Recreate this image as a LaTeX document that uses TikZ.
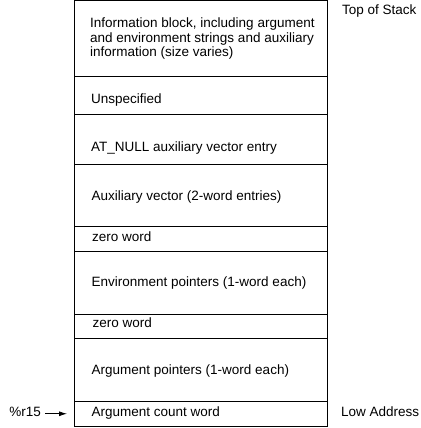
\documentclass[tikz,border=0pt]{standalone}
\usepackage{fontspec}
\setmainfont{Liberation Sans}
\usetikzlibrary{positioning,arrows.meta}

\newcommand{\cellfont}{\fontsize{13.5pt}{14.7pt}\selectfont}

\tikzset{
  cell/.style={draw, line width=1pt, minimum width=253pt, inner sep=0pt, outer sep=0pt, anchor=north west},
  txt/.style={inner sep=0pt, align=left, font=\cellfont, anchor=base west},
}

\begin{document}
\begin{tikzpicture}[x=1pt, y=-1pt]
\useasboundingbox (0,0) rectangle (420,428);

% stack cells, top to bottom
\node [cell, minimum height=75pt] (info) at (74,1) {};
\node [cell, minimum height=38pt] (unspec) at (74,76) {};
\node [cell, minimum height=50pt] (atnull) at (74,114) {};
\node [cell, minimum height=62pt] (auxv) at (74,164) {};
\node [cell, minimum height=25pt] (zeroa) at (74,226) {};
\node [cell, minimum height=63pt] (envp) at (74,251) {};
\node [cell, minimum height=24pt] (zerob) at (74,314) {};
\node [cell, minimum height=63pt] (argv) at (74,338) {};
\node [cell, minimum height=25.5pt] (argc) at (74,401) {};

% cell texts (base = last line)
\node [txt] (infotxt) at (90,56.7) {Information block, including argument\\and environment strings and auxiliary\\information (size varies)};
\node [txt] (unspectxt) at (91,103.3) {Unspecified};
\node [txt] (atnulltxt) at (91,151) {AT\_NULL auxiliary vector entry};
\node [txt] (auxvtxt) at (91.5,200.7) {Auxiliary vector (2-word entries)};
\node [txt] (zeroatxt) at (92,241.3) {zero word};
\node [txt] (envptxt) at (91.5,286.7) {Environment pointers (1-word each)};
\node [txt] (zerobtxt) at (92.5,327.3) {zero word};
\node [txt] (argvtxt) at (91.5,374) {Argument pointers (1-word each)};
\node [txt] (argctxt) at (91.5,416.3) {Argument count word};

\node [txt] (top) at (342,15) {Top of Stack};
\node [txt] (low) at (341,416.5) {Low Address};
\node [txt, anchor=base east] (rfifteen) at (41,416.5) {\%r15};

\draw [-{Latex[length=8pt, width=5pt]}, line width=0.8pt] ([xshift=4pt]rfifteen.east |- argc) -- ([xshift=-7pt]argc.west);
\end{tikzpicture}
\end{document}
